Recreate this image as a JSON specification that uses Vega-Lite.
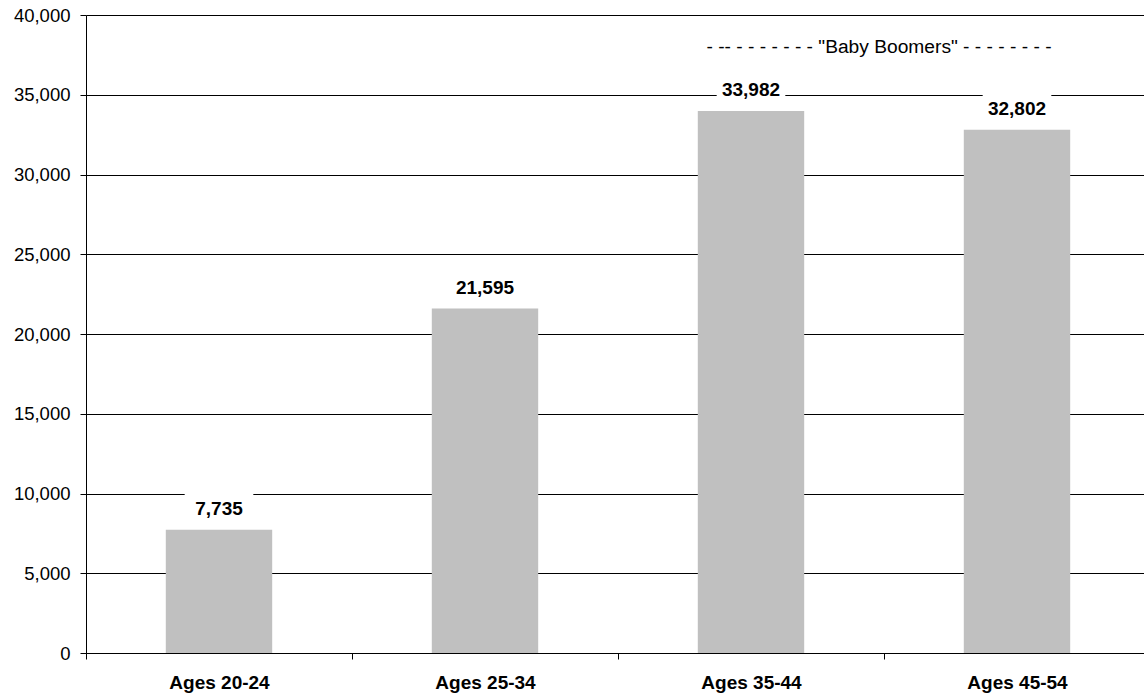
{
  "$schema": "https://vega.github.io/schema/vega-lite/v6.json",
  "autosize": {"type": "none"},
  "padding": {"left": 86, "top": 15, "right": 0, "bottom": 45},
  "width": 1058,
  "height": 638,
  "background": "white",
  "config": {
    "font": "Liberation Sans",
    "view": {"stroke": null}
  },
  "datasets": {
    "ages": [
      {"group": "Ages 20-24", "count": 7735},
      {"group": "Ages 25-34", "count": 21595},
      {"group": "Ages 35-44", "count": 33982},
      {"group": "Ages 45-54", "count": 32802}
    ],
    "note": [
      {"group": "Ages 35-44", "level": 38000, "label": "- -- - - - - - - - \"Baby Boomers\" - - - - - - - -"}
    ]
  },
  "encoding": {
    "x": {
      "field": "group",
      "type": "nominal",
      "sort": null,
      "scale": {"range": [0, 1064], "paddingInner": 0.6, "paddingOuter": 0.3},
      "axis": {
        "title": null,
        "labelAngle": 0,
        "labelFontSize": 19,
        "labelFontWeight": "bold",
        "labelColor": "black",
        "labelPadding": 14,
        "domainColor": "black",
        "tickColor": "black",
        "tickSize": 6,
        "tickOffset": -133,
        "labelOffset": 133,
        "grid": false
      }
    }
  },
  "layer": [
    {
      "data": {"name": "ages"},
      "mark": {"type": "bar", "color": "#C0C0C0"},
      "encoding": {
        "y": {
          "field": "count",
          "type": "quantitative",
          "scale": {"domain": [0, 40000], "nice": false},
          "axis": {
            "title": null,
            "values": [0, 5000, 10000, 15000, 20000, 25000, 30000, 35000, 40000],
            "format": ",.0f",
            "labelFontSize": 18.5,
            "labelColor": "black",
            "labelPadding": 10,
            "domainColor": "black",
            "tickColor": "black",
            "tickSize": 6,
            "grid": true,
            "gridColor": "black",
            "gridOpacity": 1
          }
        }
      }
    },
    {
      "data": {"name": "ages"},
      "mark": {"type": "rect", "color": "white", "width": {"band": 0.645}, "yOffset": -37, "y2Offset": -9},
      "encoding": {
        "y": {"field": "count", "type": "quantitative"},
        "y2": {"field": "count"}
      }
    },
    {
      "data": {"name": "ages"},
      "mark": {"type": "text", "fontSize": 19, "fontWeight": "bold", "color": "black", "align": "center", "baseline": "alphabetic", "dy": -15},
      "encoding": {
        "y": {"field": "count", "type": "quantitative"},
        "text": {"field": "count", "type": "quantitative", "format": ",.0f"}
      }
    },
    {
      "data": {"name": "note"},
      "mark": {"type": "text", "fontSize": 19.2, "color": "black", "align": "center", "baseline": "middle", "xOffset": 128},
      "encoding": {
        "y": {"field": "level", "type": "quantitative"},
        "text": {"field": "label"}
      }
    }
  ]
}
